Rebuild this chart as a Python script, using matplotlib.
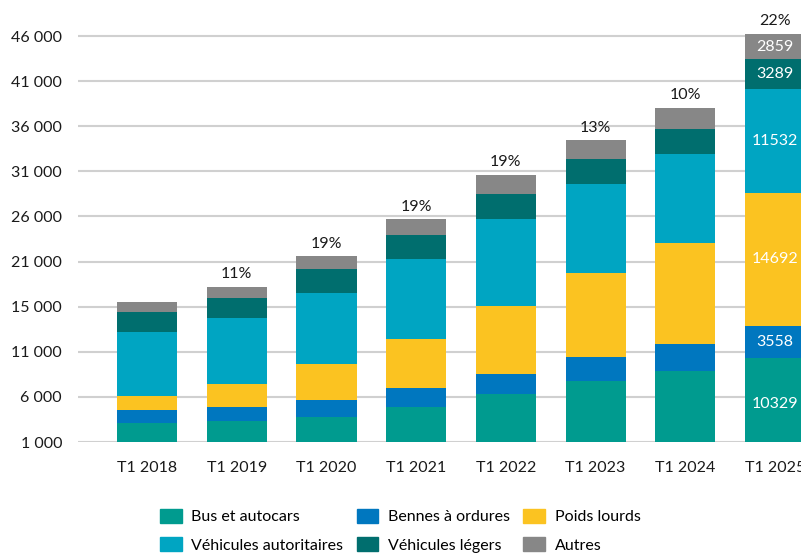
import numpy as np
import matplotlib
matplotlib.use('Agg')
from matplotlib.backends.backend_agg import FigureCanvasAgg as FigureCanvas
from matplotlib.figure import Figure
from matplotlib.patches import Patch

matplotlib.rcParams['font.family'] = ['Lato', 'DejaVu Sans']

# values (number of vehicles per category)
periods = ['T1 2018', 'T1 2019', 'T1 2020', 'T1 2021', 'T1 2022', 'T1 2023', 'T1 2024', 'T1 2025']
bus = [3072, 3327, 3737, 4878, 6318, 7759, 8867, 10329]
bennes = [1474, 1584, 1917, 2105, 2216, 2626, 2991, 3558]
poids_lourds = [1551, 2515, 3988, 5396, 7568, 9307, 11158, 14692]
autoritaires = [7091, 7280, 7900, 8897, 9606, 9894, 9894, 11532]
legers = [2216, 2216, 2593, 2660, 2770, 2737, 2737, 3289]
autres = [1108, 1285, 1474, 1772, 2139, 2139, 2393, 2859]
growth = ['', '11%', '19%', '19%', '19%', '13%', '10%', '22%']

yticks = [1000, 6000, 11000, 16000, 21000, 26000, 31000, 36000, 41000, 46000]
ytick_labels = ['1 000', '6 000', '11 000', '15 000', '21 000', '26 000', '31 000', '36 000', '41 000', '46 000']

series = [
    ('Bus et autocars', bus, '#009B8F'),
    ('Bennes à ordures', bennes, '#0077BF'),
    ('Poids lourds', poids_lourds, '#FBC321'),
    ('Véhicules autoritaires', autoritaires, '#00A5C2'),
    ('Véhicules légers', legers, '#006E6E'),
    ('Autres', autres, '#878787'),
]

fig = Figure(figsize=(8.01, 5.53), dpi=100)
canvas = FigureCanvas(fig)
ax = fig.add_axes([78 / 801, 111 / 553, 723 / 801, 410.5 / 553])

x = np.arange(len(periods))
bottom = np.zeros(len(periods))
for name, vals, col in series:
    ax.bar(x, vals, 0.67, bottom=bottom, color=col, zorder=2)
    # values only written in the last bar
    ax.text(x[-1], bottom[-1] + vals[-1] / 2, str(vals[-1]), color='white',
            ha='center', va='center', fontsize=11.5, zorder=3)
    bottom = bottom + np.array(vals)

for i in range(len(periods)):
    if growth[i]:
        ax.annotate(growth[i], (x[i], bottom[i]), xytext=(0, 4), textcoords='offset points',
                    ha='center', va='bottom', fontsize=11.5, color='#1a1a1a', annotation_clip=False)

ax.set_xlim(-0.77, 7.29)
ax.set_ylim(1000, 46500)
ax.set_yticks(yticks)
ax.set_yticklabels(ytick_labels)
ax.set_xticks(x)
ax.set_xticklabels(periods)
ax.tick_params(axis='both', length=0, labelsize=11.5, colors='#1a1a1a')
ax.tick_params(axis='x', pad=14)
ax.tick_params(axis='y', pad=11.5)
ax.yaxis.grid(True, color='#D0D0D0', linewidth=1.5, zorder=0)
ax.set_axisbelow(True)
[s.set_visible(False) for s in ax.spines.values()]

# legend, filled column by column so rows read as in the original
handles = [Patch(color=series[k][2], label=series[k][0]) for k in [0, 3, 1, 4, 2, 5]]
fig.legend(handles=handles, loc='upper left', bbox_to_anchor=(160 / 801, 1 - 509 / 553),
           ncol=3, frameon=False, fontsize=11.5, borderpad=0, borderaxespad=0,
           handlelength=1.35, handleheight=0.95, handletextpad=0.6,
           columnspacing=0.85, labelspacing=0.8)

fig.savefig('out.png')
